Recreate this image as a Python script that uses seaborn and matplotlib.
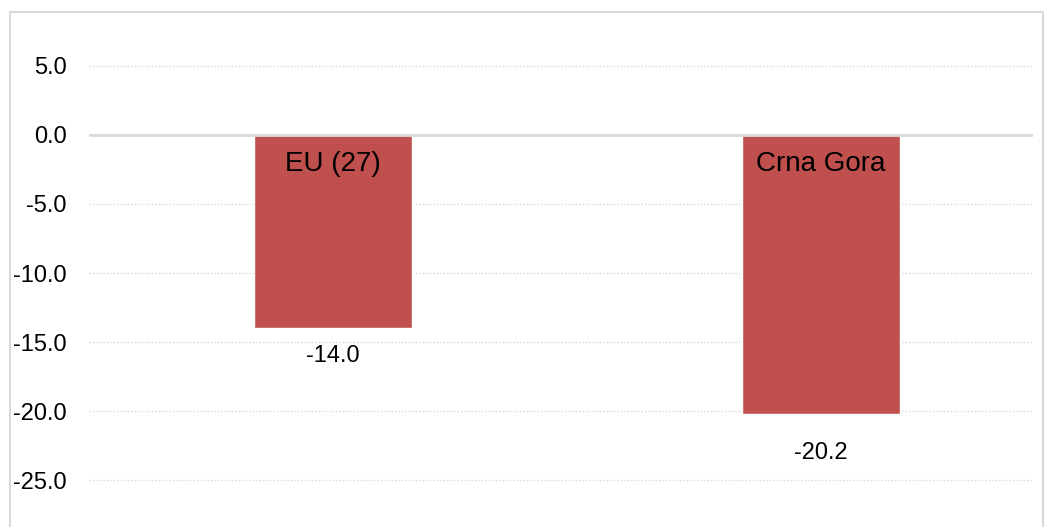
import pandas as pd
import numpy as np
import matplotlib.pyplot as plt
import seaborn as sns
from matplotlib.patches import Rectangle

# values
regions = ['EU (27)', 'Crna Gora']
values = [-14.0, -20.2]
value_labels = ['-14.0', '-20.2']
yticks = [5, 0, -5, -10, -15, -20, -25]

df = pd.DataFrame({'Region': regions, 'Value': values})

sns.set_style('white')
plt.rcParams['font.family'] = ['Liberation Sans', 'DejaVu Sans']

fig = plt.figure(figsize=(10.53, 5.27), dpi=100)
ax = fig.add_axes([89 / 1053, 0, (1033 - 89) / 1053, 1 - 20 / 527])

sns.barplot(data=df, x='Region', y='Value', color='#C0504D', width=0.324,
            saturation=1, ax=ax, zorder=3)

ax.set_ylim(-28.4, 8.33)
ax.set_xlim(-0.5, 1.435)
ax.set_yticks(yticks)
ax.set_yticklabels([f'{t:.1f}' for t in yticks], fontsize=17, color='#000000')
ax.set_xticks([])
ax.set_xlabel('')
ax.set_ylabel('')
ax.tick_params(axis='y', length=0, pad=16)
for s in ax.spines.values():
    s.set_visible(False)

for t in yticks:
    if t == 0:
        ax.axhline(0, color='#D9D9D9', lw=2, zorder=4)
    else:
        ax.axhline(t, color='#D9D9D9', lw=1, ls=(0, (1, 1.5)), zorder=1)

# category names inside the bars, values below the bar ends
offsets = [-28, -39]
for i, (name, v, lab) in enumerate(zip(regions, values, value_labels)):
    ax.annotate(name, xy=(i, 0), xytext=(0, -29), textcoords='offset pixels',
                ha='center', va='center', fontsize=20, color='#000000', zorder=5)
    ax.annotate(lab, xy=(i, v), xytext=(0, offsets[i]), textcoords='offset pixels',
                ha='center', va='center', fontsize=17, color='#000000', zorder=5)

# light frame around the chart
fig.patches.append(Rectangle((10 / 1053, -0.1), 1033 / 1053, 1 - 12 / 527 + 0.1,
                             transform=fig.transFigure, fill=False,
                             edgecolor='#D9D9D9', lw=1.5))

fig.savefig('out.png', dpi=100)
